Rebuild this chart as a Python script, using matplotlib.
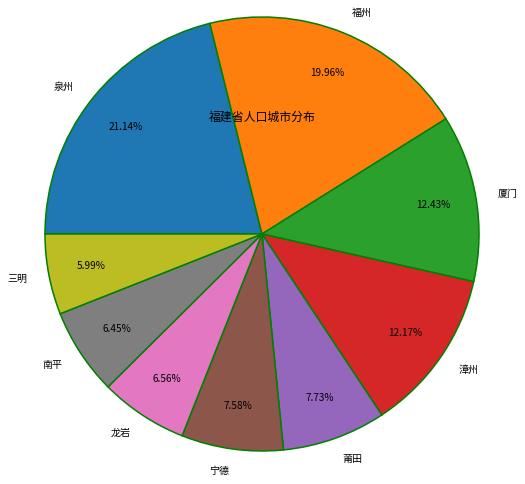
import matplotlib
matplotlib.use("Agg")
import matplotlib.pyplot as plt

plt.rcParams['font.family'] = ['Noto Sans CJK SC', 'DejaVu Sans']

cities = ['泉州', '福州', '厦门', '漳州', '莆田', '宁德', '龙岩', '南平', '三明']
shares = [21.14, 19.96, 12.43, 12.17, 7.73, 7.58, 6.56, 6.45, 5.99]
title = '福建省人口城市分布'

W, H = 525, 484
cx, cy, r = 262, 234, 217

fig = plt.figure(figsize=(W / 100, H / 100), dpi=100)
ax = fig.add_axes([0, 0, 1, 1])
ax.pie(shares, labels=cities, autopct='%.2f%%', startangle=180, counterclock=False,
       pctdistance=0.8, labeldistance=1.1,
       wedgeprops=dict(edgecolor='green', linewidth=1.1),
       textprops=dict(fontsize=7.2))
ax.set_xlim(-cx / r, (W - cx) / r)
ax.set_ylim((cy - H) / r, cy / r)
ax.set_aspect('auto')
ax.axis('off')
fig.text(cx / W, 1 - 117 / H, title, ha='center', va='center', fontsize=8.6)
fig.savefig('out.png', dpi=100)
